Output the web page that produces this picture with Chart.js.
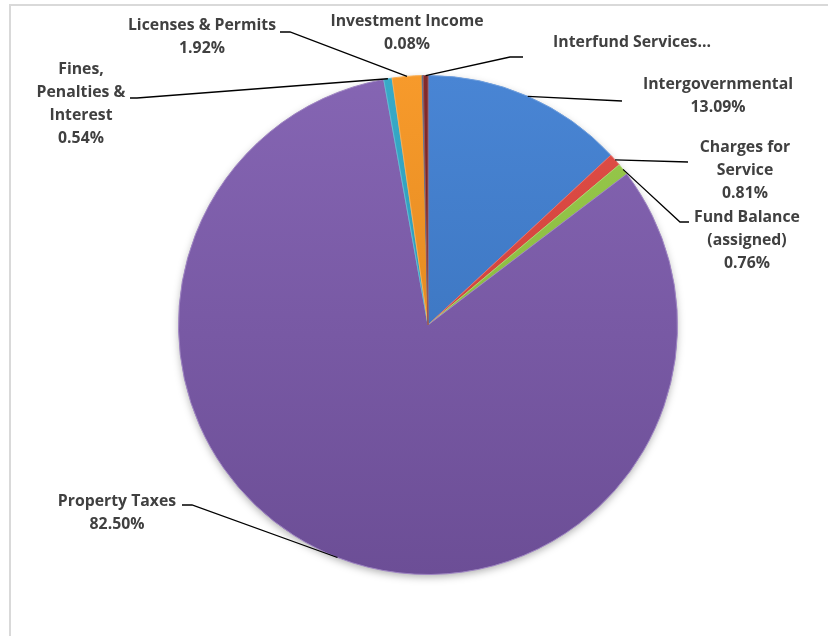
<!DOCTYPE html>
<html>
<head>
<meta charset="utf-8">
<script src="https://cdn.jsdelivr.net/npm/chart.js@4.4.1/dist/chart.umd.min.js"></script>
<style>
  html, body { margin: 0; padding: 0; background: #fff; }
  #wrap { position: relative; width: 828px; height: 636px; overflow: hidden; }
  #frame { position: absolute; left: 9px; top: 4px; width: 900px; height: 700px;
           border-top: 2px solid #d9d9d9; border-left: 2px solid #d9d9d9; }
  #revenueChart { position: absolute; left: 0; top: 0; }
</style>
</head>
<body>
<div id="wrap">
  <div id="frame"></div>
  <canvas id="revenueChart" width="828" height="636"></canvas>
</div>
<script>
// revenue sources, clockwise from 12 o'clock
const categories = ['Intergovernmental', 'Charges for Service', 'Fund Balance (assigned)', 'Property Taxes',
  'Fines, Penalties & Interest', 'Licenses & Permits', 'Investment Income', 'Interfund Services'];
const shares = [13.09, 0.81, 0.76, 82.50, 0.54, 1.92, 0.08, 0.30];
const labelLines = [
  ['Intergovernmental'],
  ['Charges for', 'Service'],
  ['Fund Balance', '(assigned)'],
  ['Property Taxes'],
  ['Fines,', 'Penalties &', 'Interest'],
  ['Licenses & Permits'],
  ['Investment Income'],
  ['Interfund Services\u2026']
];
const showPct = [true, true, true, true, true, true, true, false];
const colors = ['#3d7dd1', '#e0433b', '#92c841', '#7d5bae', '#2ba5c5', '#f7941d', '#2c4d75', '#7b1c1c'];

// label placement: text centre x, first line middle y, leader elbow points (pixels)
const labelPlace = [
  { x: 718, y: 84, leader: [[622, 101]] },
  { x: 745, y: 147, leader: [[688, 162]] },
  { x: 747, y: 217, leader: [[680, 222], [689, 222]] },
  { x: 117, y: 501, leader: [[192, 505], [182, 505]] },
  { x: 81, y: 69, leader: [[137, 98], [130, 98]] },
  { x: 202, y: 25, leader: [[290, 32], [280, 32]] },
  { x: 407, y: 21, leader: null },
  { x: 632, y: 42, leader: [[510, 57], [523, 57]] }
];

function shade(hex, amt) {
  const n = parseInt(hex.slice(1), 16);
  let r = (n >> 16) & 255, g = (n >> 8) & 255, b = n & 255;
  const f = v => Math.max(0, Math.min(255, Math.round(amt >= 0 ? v + (255 - v) * amt : v * (1 + amt))));
  return 'rgb(' + f(r) + ',' + f(g) + ',' + f(b) + ')';
}

const pieShadow = {
  id: 'pieShadow',
  beforeDatasetsDraw(chart) {
    const arc = chart.getDatasetMeta(0).data[0];
    if (!arc) return;
    const ctx = chart.ctx;
    ctx.save();
    ctx.shadowColor = 'rgba(0,0,0,0.35)';
    ctx.shadowBlur = 8;
    ctx.shadowOffsetY = 3;
    ctx.fillStyle = '#6a4c96';
    ctx.beginPath();
    ctx.arc(arc.x, arc.y, arc.outerRadius - 1, 0, Math.PI * 2);
    ctx.fill();
    ctx.restore();
  }
};

const leaderLabels = {
  id: 'leaderLabels',
  afterDatasetsDraw(chart) {
    const ctx = chart.ctx;
    const meta = chart.getDatasetMeta(0);
    ctx.save();
    meta.data.forEach((arc, i) => {
      const p = labelPlace[i];
      const mid = (arc.startAngle + arc.endAngle) / 2;
      if (p.leader) {
        ctx.strokeStyle = '#000';
        ctx.lineWidth = 1.3;
        ctx.beginPath();
        ctx.moveTo(arc.x + Math.cos(mid) * arc.outerRadius, arc.y + Math.sin(mid) * arc.outerRadius);
        p.leader.forEach(pt => ctx.lineTo(pt[0], pt[1]));
        ctx.stroke();
      }
      const lines = labelLines[i].slice();
      if (showPct[i]) lines.push(shares[i].toFixed(2) + '%');
      ctx.fillStyle = '#404040';
      ctx.font = 'bold 15.8px "Open Sans", "DejaVu Sans", sans-serif';
      ctx.textAlign = 'center';
      ctx.textBaseline = 'middle';
      lines.forEach((t, k) => ctx.fillText(t, p.x, p.y + k * 23.3));
    });
    ctx.restore();
  }
};

new Chart(document.getElementById('revenueChart'), {
  type: 'pie',
  data: {
    labels: categories,
    datasets: [{
      data: shares,
      backgroundColor: (c) => {
        const area = c.chart.chartArea;
        const base = colors[c.dataIndex];
        if (!area) return base;
        const g = c.chart.ctx.createLinearGradient(0, area.top, 0, area.bottom);
        g.addColorStop(0, shade(base, 0.06));
        g.addColorStop(1, shade(base, -0.14));
        return g;
      },
      borderColor: colors.map(c => shade(c, 0.25)),
      borderWidth: 1
    }]
  },
  options: {
    responsive: false,
    animation: false,
    layout: { padding: { top: 75, bottom: 61, left: 178, right: 150 } },
    plugins: {
      legend: { display: false },
      tooltip: { enabled: false }
    }
  },
  plugins: [pieShadow, leaderLabels]
});
</script>
</body>
</html>
